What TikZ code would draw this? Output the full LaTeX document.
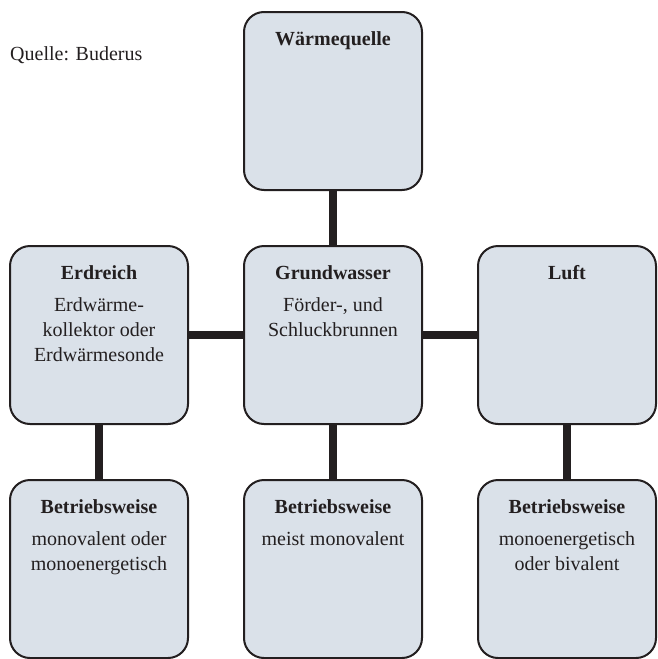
\documentclass[tikz,border=0pt]{standalone}
\usepackage{fontspec}
\setmainfont{Liberation Serif}
\usepackage{tikz}
\usetikzlibrary{positioning}
\definecolor{boxfill}{RGB}{218,225,233}
\definecolor{boxline}{RGB}{35,31,32}

\begin{document}
\begin{tikzpicture}[x=1pt, y=-1pt,
  box/.style={draw=boxline, line width=2pt, fill=boxfill, rounded corners=20pt, minimum width=178pt, minimum height=178pt, inner sep=0pt},
  txt/.style={anchor=north, align=center, inner sep=0pt, font=\fontsize{20}{25}\selectfont, text=boxline},
  link/.style={draw=boxline, line width=8pt}]
\useasboundingbox (0,0) rectangle (657,659);
\node [anchor=base west, inner sep=0pt, font=\fontsize{20}{25}\selectfont, text=boxline] (quelle) at (10,60) {Quelle: Buderus};

% boxes
\node [box] (waerme) at (333,101) {};
\node [box] (erdreich) at (99,335) {};
\node [box] (grundwasser) at (333,335) {};
\node [box] (luft) at (567,335) {};
\node [box] (betrieb1) at (99,569) {};
\node [box] (betrieb2) at (333,569) {};
\node [box] (betrieb3) at (567,569) {};

% connectors
\draw[link] (waerme.south) -- (grundwasser.north);
\draw[link] (erdreich.east) -- (grundwasser.west);
\draw[link] (grundwasser.east) -- (luft.west);
\draw[link] (erdreich.south) -- (betrieb1.north);
\draw[link] (grundwasser.south) -- (betrieb2.north);
\draw[link] (luft.south) -- (betrieb3.north);

% texts
\node [txt] at ([yshift=-20pt]waerme.north) {\textbf{Wärmequelle}};
\node [txt] at ([yshift=-20pt]erdreich.north) {\textbf{Erdreich}\\[7pt]Erdwärme-\\kollektor oder\\Erdwärmesonde};
\node [txt] at ([yshift=-20pt]grundwasser.north) {\textbf{Grundwasser}\\[7pt]Förder-, und\\Schluckbrunnen};
\node [txt] at ([yshift=-20pt]luft.north) {\textbf{Luft}};
\node [txt] at ([yshift=-20pt]betrieb1.north) {\textbf{Betriebsweise}\\[7pt]monovalent oder\\monoenergetisch};
\node [txt] at ([yshift=-20pt]betrieb2.north) {\textbf{Betriebsweise}\\[7pt]meist monovalent};
\node [txt] at ([yshift=-20pt]betrieb3.north) {\textbf{Betriebsweise}\\[7pt]monoenergetisch\\oder bivalent};
\end{tikzpicture}
\end{document}
